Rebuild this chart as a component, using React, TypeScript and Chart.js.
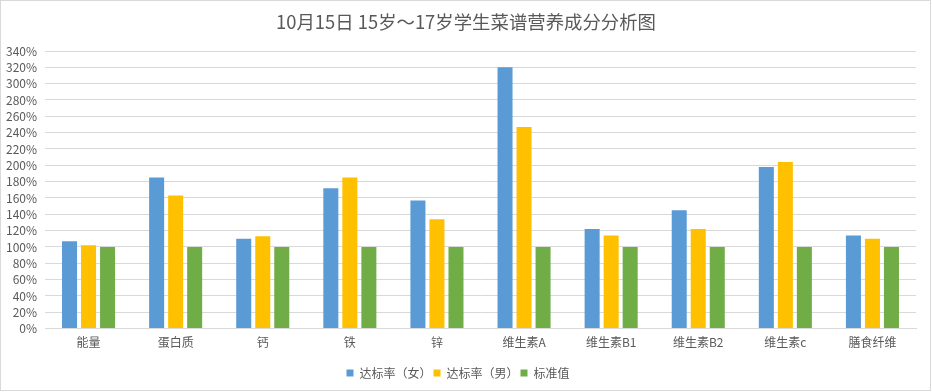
import React, { useEffect, useRef } from "react";
import { Chart, registerables } from "chart.js";

Chart.register(...registerables);

const categories = ["能量", "蛋白质", "钙", "铁", "锌", "维生素A", "维生素B1", "维生素B2", "维生素c", "膳食纤维"];
const femaleRate = [107, 185, 110, 172, 157, 320, 122, 145, 198, 114];
const maleRate = [102, 163, 113, 185, 134, 247, 114, 122, 204, 110];
const standardValue = [100, 100, 100, 100, 100, 100, 100, 100, 100, 100];
const seriesNames = ["达标率（女）", "达标率（男）", "标准值"];
const titleText = "10月15日 15岁～17岁学生菜谱营养成分分析图";

const FONT = "'Noto Sans CJK SC', 'Noto Sans', sans-serif";

const frame = {
  id: "frame",
  beforeDraw(chart: any) {
    const ctx = chart.ctx;
    ctx.save();
    ctx.fillStyle = "#ffffff";
    ctx.fillRect(0, 0, chart.width, chart.height);
    ctx.restore();
  },
  afterDraw(chart: any) {
    const ctx = chart.ctx;
    ctx.save();
    ctx.fillStyle = "#595959";
    ctx.font = `normal 18.4px ${FONT}`;
    ctx.textAlign = "center";
    ctx.textBaseline = "middle";
    ctx.fillText(titleText, 466, 22);
    ctx.strokeStyle = "#d9d9d9";
    ctx.lineWidth = 1;
    ctx.strokeRect(0.5, 0.5, 930, 390);
    ctx.restore();
  },
};

export default function App() {
  const ref = useRef<HTMLCanvasElement | null>(null);
  useEffect(() => {
    if (!ref.current) return;
    const chart = new Chart(ref.current, {
      type: "bar",
      data: {
        labels: categories,
        datasets: [
          { label: seriesNames[0], data: femaleRate, backgroundColor: "#5B9BD5" },
          { label: seriesNames[1], data: maleRate, backgroundColor: "#FFC000" },
          { label: seriesNames[2], data: standardValue, backgroundColor: "#70AD47" },
        ],
      },
      options: {
        responsive: false,
        animation: false,
        devicePixelRatio: 1,
        layout: { padding: { left: 0, right: 16, top: 51, bottom: 3 } },
        datasets: {
          bar: { categoryPercentage: 0.655, barPercentage: 0.79 },
        },
        plugins: {
          title: { display: false },
          legend: {
            position: "bottom",
            labels: {
              boxWidth: 7,
              boxHeight: 7,
              padding: 2,
              color: "#595959",
              font: { family: FONT, size: 12 },
            },
          },
          tooltip: { enabled: false },
        },
        scales: {
          x: {
            afterFit(scale: any) {
              scale.height += 8;
            },
            grid: { display: false, drawTicks: false },
            border: { display: true, color: "#d9d9d9" },
            ticks: {
              color: "#595959",
              font: { family: FONT, size: 12 },
              padding: 7,
              maxRotation: 0,
              autoSkip: false,
            },
          },
          y: {
            min: 0,
            max: 340,
            afterFit(scale: any) {
              scale.width = 45;
            },
            grid: { color: "#d9d9d9", drawTicks: false },
            border: { display: false },
            ticks: {
              stepSize: 20,
              autoSkip: false,
              color: "#595959",
              font: { family: FONT, size: 12 },
              padding: 8,
              callback: (v: any) => v + "%",
            },
          },
        },
      },
      plugins: [frame],
    });
    return () => chart.destroy();
  }, []);
  return (
    <div style={{ position: "fixed", left: 0, top: 0, width: 932, height: 392 }}>
      <canvas ref={ref} width={932} height={392} style={{ width: 932, height: 392 }} />
    </div>
  );
}
